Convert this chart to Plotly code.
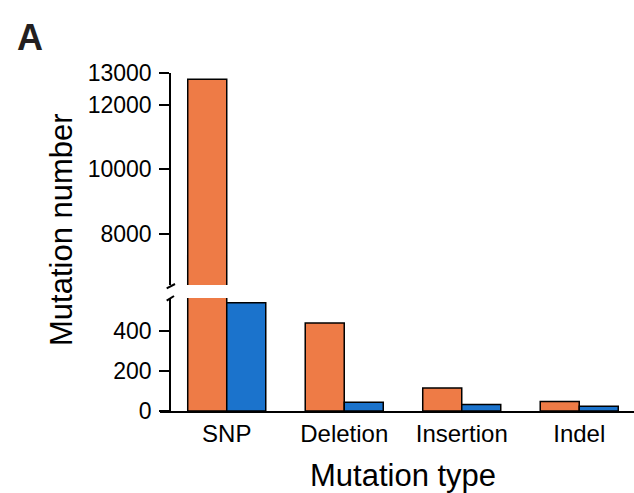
import plotly.graph_objects as go

categories = ["SNP", "Deletion", "Insertion", "Indel"]
series_a = [12800, 440, 115, 47]   # orange
series_b = [541, 44, 33, 24]       # blue
lower_ticks = [0, 200, 400]
upper_ticks = [8000, 10000, 12000, 13000]

W, H = 634, 493
ORANGE = "#EE7B46"
BLUE = "#1B73CC"
FONT = "Arial, Liberation Sans, Helvetica, sans-serif"

def px(x):
    return x / W

def py(y):
    return (H - y) / H

fig = go.Figure()
for xa, ya in [("x", "y"), ("x2", "y2")]:
    fig.add_trace(go.Bar(x=categories, y=series_a, marker=dict(color=ORANGE, line=dict(color="black", width=1.5)),
                         xaxis=xa, yaxis=ya, showlegend=False, name="A"))
    fig.add_trace(go.Bar(x=categories, y=series_b, marker=dict(color=BLUE, line=dict(color="black", width=1.5)),
                         xaxis=xa, yaxis=ya, showlegend=False, name="B"))

xrange = [-0.568, 3.466]
yax_common = dict(anchor="free", position=px(170), showline=True, linecolor="black", linewidth=1.5,
                  ticks="outside", ticklen=10, tickwidth=1.5, tickcolor="black", tickformat="d",
                  tickfont=dict(size=23),
                  showgrid=False, zeroline=False, ticklabelstandoff=3, automargin=False)
fig.update_layout(
    template="none",
    width=W, height=H,
    margin=dict(l=0, r=0, t=0, b=0, pad=0, autoexpand=False),
    paper_bgcolor="white", plot_bgcolor="white",
    barmode="group", bargap=0.336, bargroupgap=0,
    font=dict(family=FONT, color="black", size=22),
    xaxis=dict(domain=[px(160), 1], range=xrange, anchor="y", showline=True, linecolor="black", linewidth=1.5,
               ticks="", showgrid=False, zeroline=False, tickfont=dict(size=24), ticklabelstandoff=0,
               automargin=False),
    xaxis2=dict(domain=[px(160), 1], range=xrange, anchor="y2", matches="x", visible=False, automargin=False),
    yaxis=dict(domain=[py(411), py(298)], range=[0, 565], tickvals=lower_ticks, **yax_common),
    yaxis2=dict(domain=[py(285), py(72.7)], range=[6410, 13000], tickvals=upper_ticks, **yax_common),
)

# axis break marks
for (x0, y0, x1, y1) in [(166.7, 288.3, 175, 284), (166.7, 300.7, 174, 296)]:
    fig.add_shape(type="line", xref="paper", yref="paper", x0=px(x0), y0=py(y0), x1=px(x1), y1=py(y1),
                  line=dict(color="black", width=2))

fig.add_annotation(text="<b>A</b>", xref="paper", yref="paper", x=px(30), y=py(37), showarrow=False,
                   font=dict(size=36, color="#231F20"), xanchor="center", yanchor="middle")
fig.add_annotation(text="Mutation number", xref="paper", yref="paper", x=px(62), y=py(230), showarrow=False,
                   textangle=-90, font=dict(size=31), xanchor="center", yanchor="middle")
fig.add_annotation(text="Mutation type", xref="paper", yref="paper", x=px(403), y=py(475), showarrow=False,
                   font=dict(size=31), xanchor="center", yanchor="middle")

fig.write_html("out.html")
